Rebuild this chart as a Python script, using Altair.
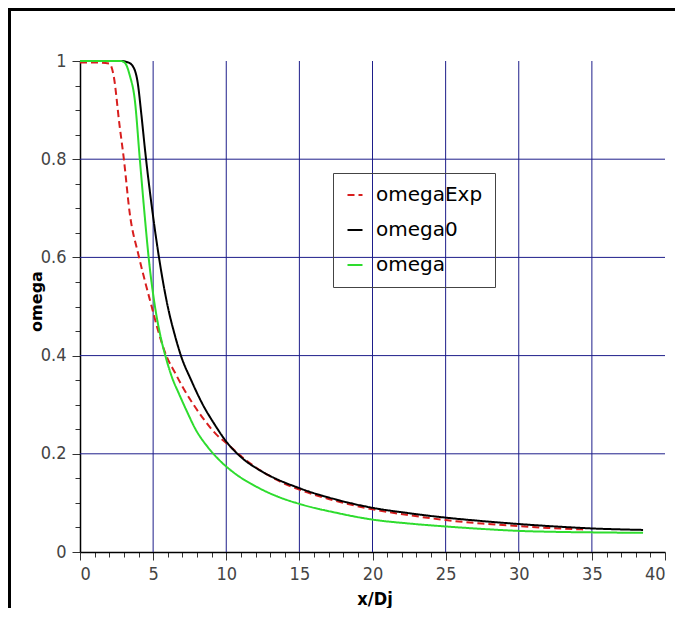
import altair as alt
import pandas as pd

# ---- data ----
series_names = ["omegaExp", "omega0", "omega"]
series_colors = ["#d81e1e", "#000000", "#2edc2e"]
series_dash = [[7, 4], [1, 0], [1, 0]]

exp_x = [0, 1, 2.0, 2.3, 2.7, 3.0, 3.4, 4.0, 4.5, 4.9, 5.3, 5.9, 6.5, 7.0, 7.7, 8.6,
         9.3, 10.0, 11.1, 12.5, 14.0, 15.0, 17.0, 20.0, 22.5, 25.0, 27.5, 30.0, 32.0, 34.4]
exp_y = [0.997, 0.997, 0.995, 0.97, 0.87, 0.80, 0.69, 0.605, 0.545, 0.50, 0.455, 0.40,
         0.365, 0.337, 0.303, 0.265, 0.24, 0.222, 0.193, 0.163, 0.139, 0.127, 0.108, 0.087,
         0.075, 0.065, 0.058, 0.053, 0.049, 0.046]

om0_x = [0, 1, 2, 2.8, 3.3, 3.6, 3.95, 4.2, 4.45, 5.0, 5.4, 6.0, 6.5, 6.9,
         7.6, 8.4, 9.2, 10.0, 11.1, 12.5, 15.0, 17.5, 20.0, 22.5, 25.0, 27.5, 30.0, 32.5,
         35.0, 38.5]
om0_y = [1, 1, 1, 1, 0.997, 0.99, 0.955, 0.89, 0.818, 0.683, 0.60, 0.50,
         0.44, 0.40, 0.35, 0.30, 0.26, 0.225, 0.191, 0.163, 0.130, 0.107, 0.090, 0.079,
         0.070, 0.063, 0.057, 0.052, 0.048, 0.045]

om_x = [0, 1, 2, 2.8, 3.1, 3.4, 3.75, 4.09, 4.43, 4.7, 5.1, 5.5, 5.86, 6.3, 6.77, 7.3,
        7.9, 8.7, 9.5, 10.5, 12.0, 13.5, 15.0, 17.5, 20.0, 22.5, 25.0, 27.5, 30.0, 32.5,
        35.0, 38.5]
om_y = [1, 1, 1, 1, 0.995, 0.971, 0.92, 0.80, 0.683, 0.598, 0.505, 0.44, 0.397, 0.355,
        0.322, 0.287, 0.25, 0.215, 0.188, 0.162, 0.134, 0.113, 0.098, 0.080, 0.066, 0.058,
        0.052, 0.047, 0.043, 0.041, 0.040, 0.039]

x_major = [0, 5, 10, 15, 20, 25, 30, 35, 40]
x_minor = [v for v in range(0, 41) if v % 5 != 0]
y_major = [0, 0.2, 0.4, 0.6, 0.8, 1]
y_minor = [0.05, 0.1, 0.15, 0.25, 0.3, 0.35, 0.45, 0.5, 0.55, 0.65, 0.7, 0.75, 0.85, 0.9, 0.95]
x_grid = [5, 10, 15, 20, 25, 30, 35]
y_grid = [0.2, 0.4, 0.6, 0.8]

# ---- build tables ----
rows = []
for name, xs_, ys_ in [("omegaExp", exp_x, exp_y), ("omega0", om0_x, om0_y), ("omega", om_x, om_y)]:
    for i, (a, b) in enumerate(zip(xs_, ys_)):
        rows.append({"s": name, "x": a, "y": b, "o": i})
df = pd.DataFrame(rows)

W, H = 585, 491
PL, PT, PR, PB = 72, 53, 10, 56
GRID = "#1e1e8a"
TICKFONT = "DejaVu Sans Condensed, DejaVu Sans"

xs = alt.Scale(domain=[0, 40], nice=False, zero=False)
ys = alt.Scale(domain=[0, 1], nice=False, zero=False)

frame_top = alt.Chart(df).mark_rule(color="black", strokeWidth=3).encode(
    x=alt.value(-PL), x2=alt.value(W + PR), y=alt.value(-PT + 1))
frame_left = alt.Chart(df).mark_rule(color="black", strokeWidth=3).encode(
    x=alt.value(-PL + 1.5), y=alt.value(-PT), y2=alt.value(H + PB))

vgrid = alt.Chart(pd.DataFrame({"g": x_grid})).mark_rule(color=GRID, strokeWidth=1).encode(
    x=alt.X("g:Q", scale=xs, axis=None))
hgrid = alt.Chart(pd.DataFrame({"g": y_grid})).mark_rule(color=GRID, strokeWidth=1).encode(
    y=alt.Y("g:Q", scale=ys, axis=None))

minor = alt.Chart(df).mark_point(opacity=0).encode(
    x=alt.X("x:Q", scale=xs, title=None,
            axis=alt.Axis(orient="bottom", values=x_minor, labels=False, domain=False,
                          grid=False, tickSize=5, tickColor="#333", tickWidth=1)),
    y=alt.Y("y:Q", scale=ys, title=None,
            axis=alt.Axis(orient="left", values=y_minor, labels=False, domain=False,
                          grid=False, tickSize=5, tickColor="#333", tickWidth=1)),
)

lines = alt.Chart(df).mark_line(strokeWidth=2, interpolate="monotone").encode(
    x=alt.X("x:Q", scale=xs, title="x/Dj",
            axis=alt.Axis(orient="bottom", values=x_major, format="~g", grid=False,
                          tickSize=8, tickColor="#333", tickWidth=1,
                          domainColor="black", domainWidth=1.5,
                          labelFont=TICKFONT, labelFontSize=18, labelColor="#444",
                          labelPadding=5,
                          titleFont=TICKFONT, titleFontSize=18, titleFontWeight="bold",
                          titleColor="black", titleX=W / 2 + 2, titleY=52,
                          titleBaseline="alphabetic")),
    y=alt.Y("y:Q", scale=ys, title="omega",
            axis=alt.Axis(orient="left", values=y_major, format="~g", grid=False,
                          tickSize=8, tickColor="#333", tickWidth=1,
                          domainColor="black", domainWidth=1.5,
                          labelFont=TICKFONT, labelFontSize=18, labelColor="#444",
                          labelPadding=6,
                          titleFont="DejaVu Sans", titleFontSize=16, titleFontWeight="bold",
                          titleColor="black", titleX=-39, titleY=240, titleAngle=270,
                          titleBaseline="alphabetic")),
    color=alt.Color("s:N", scale=alt.Scale(domain=series_names, range=series_colors),
                    title=None),
    strokeDash=alt.StrokeDash("s:N", scale=alt.Scale(domain=series_names, range=series_dash),
                              title=None),
    order="o:Q",
)

chart = alt.layer(frame_top, frame_left, vgrid, hgrid, minor, lines).resolve_axis(
    x="independent", y="independent"
).properties(
    width=W, height=H,
    autosize=alt.AutoSizeParams(type="none"),
    padding={"left": PL, "top": PT, "right": PR, "bottom": PB},
).configure_view(stroke=None).configure_legend(
    orient="none", legendX=253, legendY=112,
    strokeColor="#444", padding=12, fillColor="transparent",
    labelFont="DejaVu Sans", labelFontSize=20, labelColor="black", labelOffset=11,
    symbolType="stroke", symbolSize=225, symbolStrokeWidth=2, rowPadding=15,
    labelLimit=300,
)

chart.save("out.html", embed_options={"renderer": "svg", "actions": False})
